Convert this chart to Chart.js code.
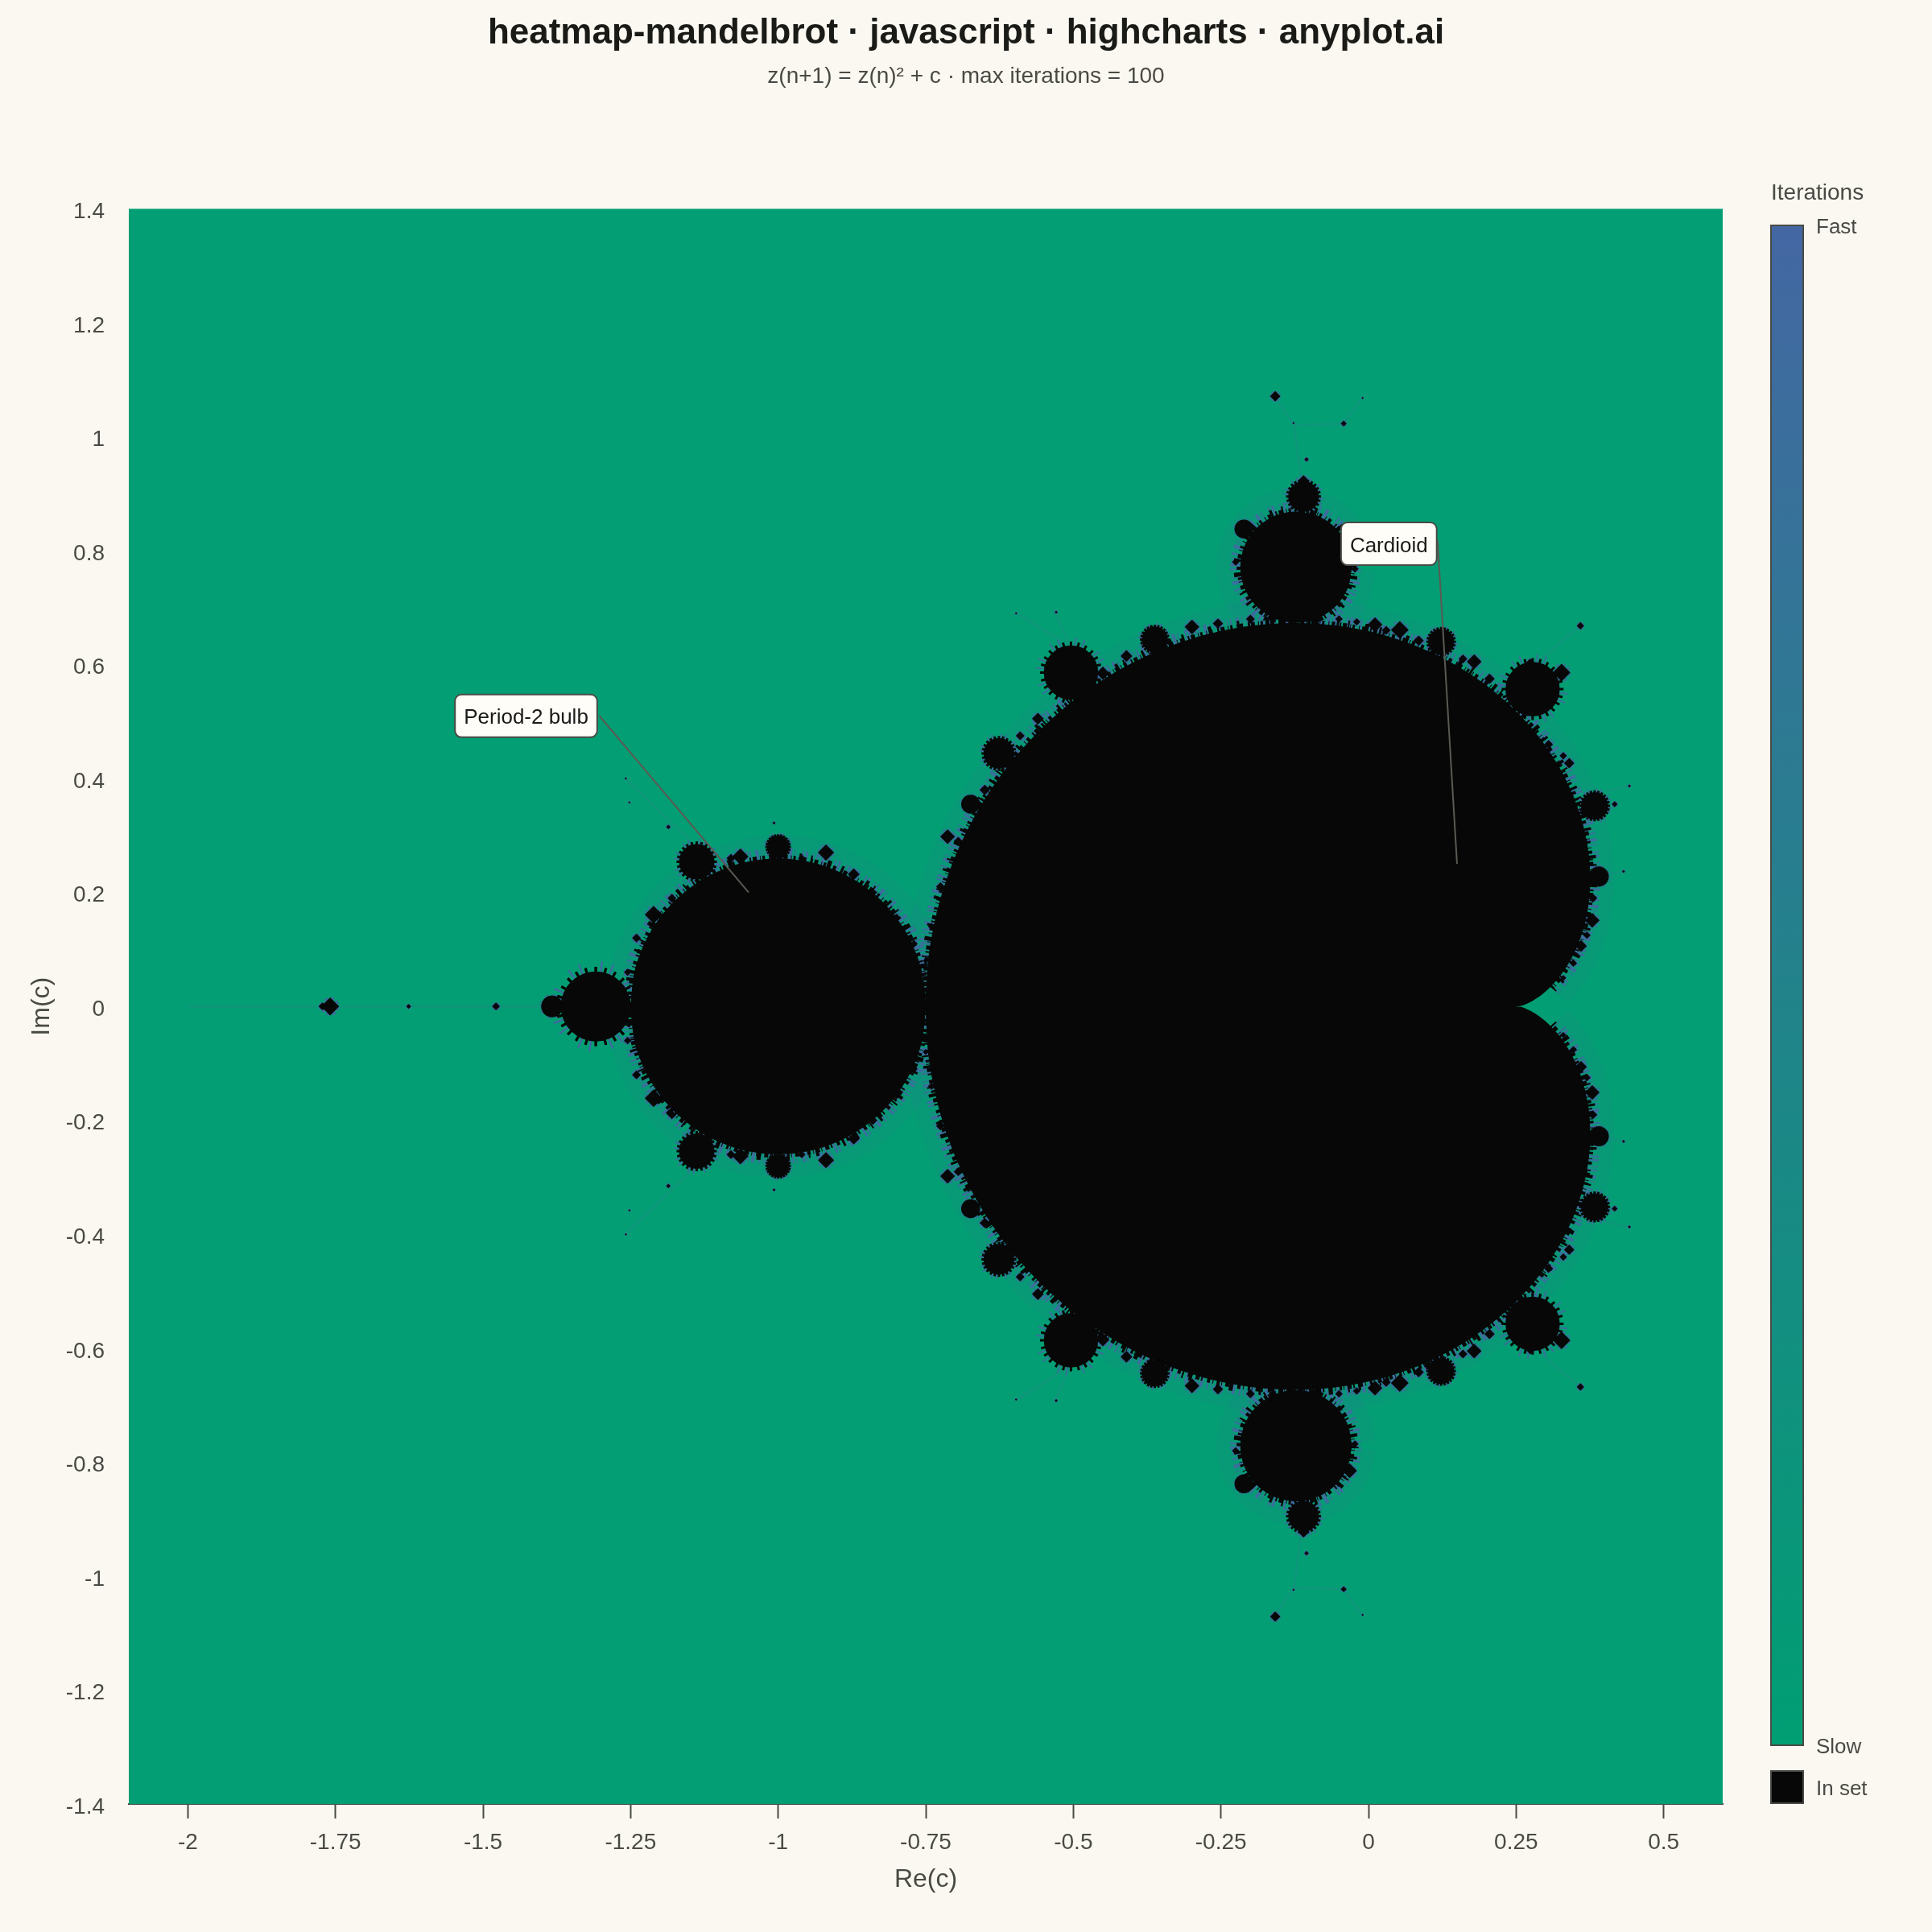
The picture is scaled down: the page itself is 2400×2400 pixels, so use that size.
<!DOCTYPE html>
<html>
<head>
<meta charset="utf-8">
<title>heatmap-mandelbrot</title>
<script src="https://cdn.jsdelivr.net/npm/chart.js@4"></script>
<style>
  html, body { margin: 0; padding: 0; background: #FAF8F1; }
  #chart { display: block; width: 2400px; height: 2400px; }
</style>
</head>
<body>
<canvas id="chart" width="2400" height="2400"></canvas>
<script>
// tick labels
const reTicks = [-2, -1.75, -1.5, -1.25, -1, -0.75, -0.5, -0.25, 0, 0.25, 0.5];
const imTicks = [-1.4, -1.2, -1, -0.8, -0.6, -0.4, -0.2, 0, 0.2, 0.4, 0.6, 0.8, 1, 1.2, 1.4];

// edge of the "in set" area, upper half
const cardioidRe = [0.25, 0.252, 0.2575, 0.2665, 0.2783, 0.2925, 0.308, 0.3241, 0.3396, 0.3536, 0.3648, 0.3723, 0.375, 0.372, 0.3625, 0.3459, 0.3217, 0.2898, 0.25, 0.2026, 0.1481, 0.0871, 0.0205, -0.0506, -0.125, -0.2013, -0.278, -0.3536, -0.4264, -0.4951, -0.558, -0.6139, -0.6613, -0.6995, -0.7273, -0.7443, -0.75];
const cardioidIm = [0, 0.001, 0.0013, 0.0046, 0.0107, 0.0205, 0.0347, 0.0537, 0.0778, 0.1072, 0.1416, 0.1808, 0.2241, 0.2709, 0.3199, 0.3705, 0.4211, 0.4706, 0.5175, 0.5605, 0.5981, 0.6293, 0.6526, 0.6673, 0.6722, 0.6671, 0.6512, 0.6247, 0.5875, 0.54, 0.4828, 0.4169, 0.3433, 0.2633, 0.1783, 0.09, 0];
const period2Re = [-0.75, -0.7585, -0.7835, -0.8232, -0.875, -0.9353, -1, -1.0647, -1.125, -1.1768, -1.2165, -1.2415, -1.25];
const period2Im = [0, 0.067, 0.1295, 0.1831, 0.2243, 0.2502, 0.259, 0.2502, 0.2243, 0.1831, 0.1295, 0.067, 0];
const period3Re = [-0.0286, -0.0358, -0.0561, -0.0866, -0.1226, -0.1586, -0.1891, -0.2094, -0.2166, -0.2094, -0.1891, -0.1586, -0.1226, -0.0866, -0.0561, -0.0358, -0.0286];
const period3Im = [0.771, 0.8082, 0.8396, 0.8606, 0.868, 0.8606, 0.8396, 0.8082, 0.771, 0.7338, 0.7024, 0.6814, 0.674, 0.6814, 0.7024, 0.7338, 0.771];

// smaller black bulbs and specks, upper half: centre and radius in Re units
const bulbRe = [-1.309, -1.383, -1.478, -1.626, -1.759, -1.772, -1.138, -1, -0.919, -1.064, -1.211, -0.872, -0.504, -0.362, -0.626, -0.674, -0.713, -0.299, 0.011, 0.053, 0.123, 0.179, 0.278, 0.327, 0.274, 0.383, 0.417, 0.39, 0.379, 0.36, 0.34, 0.347, 0.359, 0.442, 0.432, -0.11, -0.11, -0.105, -0.211, -0.225, -0.023, -0.032, -0.158, -0.042, -0.01, -0.127, -0.597, -0.529, -1.186, -1.252, -1.258, -1.007,
  -0.255, -0.2, -0.165, -0.085, -0.05, -0.02, 0.03, 0.085, 0.16, 0.205, 0.24, -0.45, -0.41, -0.56, -0.59, -0.65, -0.695, -0.725, -0.74, -0.75, 0.305, 0.33, 0.365, 0.38, 0.37, 0.33, -1.08, -0.96, -0.84, -0.8, -0.77, -1.18, -1.24, -1.255];
const bulbIm = [0, 0, 0, 0, 0, 0, 0.254, 0.28, 0.27, 0.263, 0.161, 0.232, 0.586, 0.644, 0.444, 0.355, 0.298, 0.666, 0.67, 0.661, 0.64, 0.605, 0.557, 0.586, 0.603, 0.352, 0.355, 0.228, 0.151, 0.106, 0.427, 0.076, 0.668, 0.387, 0.237, 0.895, 0.922, 0.96, 0.838, 0.78, 0.768, 0.815, 1.071, 1.023, 1.068, 1.024, 0.69, 0.692, 0.315, 0.358, 0.4, 0.322,
  0.672, 0.68, 0.683, 0.68, 0.68, 0.675, 0.66, 0.642, 0.61, 0.575, 0.545, 0.585, 0.615, 0.505, 0.475, 0.38, 0.29, 0.21, 0.14, 0.08, 0.46, 0.44, 0.29, 0.19, 0.125, 0.05, 0.26, 0.26, 0.2, 0.155, 0.11, 0.19, 0.12, 0.06];
const bulbR = [0.059, 0.016, 0.005, 0.003, 0.012, 0.005, 0.03, 0.019, 0.011, 0.011, 0.012, 0.008, 0.046, 0.022, 0.026, 0.014, 0.01, 0.01, 0.01, 0.012, 0.022, 0.01, 0.046, 0.012, 0.006, 0.023, 0.004, 0.015, 0.01, 0.008, 0.007, 0.005, 0.005, 0.002, 0.002, 0.026, 0.008, 0.003, 0.014, 0.005, 0.005, 0.01, 0.007, 0.004, 0.0015, 0.0015, 0.0015, 0.002, 0.003, 0.0015, 0.0015, 0.002,
  0.007, 0.006, 0.005, 0.005, 0.005, 0.005, 0.006, 0.007, 0.006, 0.007, 0.006, 0.009, 0.008, 0.008, 0.006, 0.007, 0.006, 0.006, 0.005, 0.004, 0.006, 0.005, 0.005, 0.006, 0.005, 0.004, 0.006, 0.005, 0.006, 0.006, 0.005, 0.006, 0.006, 0.005];

// faint filaments between the bulbs, upper half, null breaks the line
const filamentRe = [-2, -1.35, null, -0.114, -0.126, -0.159, null, -0.126, -0.043, -0.011, null, -0.506, -0.533, null, -0.506, -0.595, null, 0.281, 0.358, null, 0.381, 0.441, null, 0.39, 0.432, null, -1.138, -1.257];
const filamentIm = [0, 0, null, 0.923, 1.02, 1.07, null, 1.02, 1.023, 1.068, null, 0.632, 0.697, null, 0.632, 0.69, null, 0.6, 0.668, null, 0.372, 0.388, null, 0.228, 0.237, null, 0.28, 0.398];

// callouts: box centre and the point the leader goes to
const noteLabels = ['Period-2 bulb', 'Cardioid'];
const noteRe = [-1.427, 0.0345];
const noteIm = [0.51, 0.812];
const leaderRe = [-1.303, -1.05, null, 0.117, 0.15];
const leaderIm = [0.51, 0.2, null, 0.818, 0.25];

// colour bar
const barStops = ['#4467A3', '#009E73'];
const barLabels = ['Fast', 'Slow', 'In set'];

const INK = '#1A1A17', SOFT = '#4A4A44', BLACK = '#070707', CELL = '#049E74';

const pts = (xs, ys) => xs.map((x, i) => ({ x, y: ys[i] }));
// the picture mirrors around Im = 0
const mirrorPts = (xs, ys) => pts(xs, ys).concat(pts(xs, ys).reverse().map(p => ({ x: p.x, y: -p.y })));
const bothHalves = (xs, ys) => pts(xs, ys).concat([{ x: null, y: null }], pts(xs, ys.map(y => y === null ? null : -y)));

const cardioid = mirrorPts(cardioidRe, cardioidIm);
const cardioidEdge = mirrorPts(cardioidRe.slice(6), cardioidIm.slice(6));
const period2 = mirrorPts(period2Re, period2Im);
const period3Top = pts(period3Re, period3Im);
const period3Low = pts(period3Re, period3Im.map(y => -y));
const bulbs = mirrorPts(bulbRe, bulbIm);
const bulbSizes = bulbR.concat(bulbR.slice().reverse());

const unitPx = ctx => { const s = ctx.chart.scales.x; return s.getPixelForValue(1) - s.getPixelForValue(0); };
const isSmall = ctx => bulbSizes[ctx.dataIndex] < 0.013;

const shape = (data, extra) => Object.assign({
  data, showLine: true, pointRadius: 0, pointHoverRadius: 0, fill: 'shape',
  backgroundColor: BLACK, borderColor: BLACK, borderWidth: 1, tension: 0.3
}, extra);
const edge = (data, color, width, dash, order) => ({
  data, showLine: true, pointRadius: 0, pointHoverRadius: 0, fill: false,
  borderColor: color, borderWidth: width, borderDash: dash, tension: 0.3, order
});
const bulbSet = (scale, style, color, width, order, rotation) => ({
  data: bulbs, showLine: false, pointStyle: style, order, pointRotation: rotation || 0,
  pointRadius: ctx => Math.max(1, bulbSizes[ctx.dataIndex] * unitPx(ctx) * scale),
  pointHoverRadius: 0, backgroundColor: color, borderColor: color, pointBorderWidth: width
});
// spikes only on the bigger bulbs, the small ones are plain points
const spikeSet = (scale, color, width, order, rotation) => Object.assign(bulbSet(scale, 'star', color, width, order, rotation), {
  pointRadius: ctx => isSmall(ctx) ? 0 : bulbSizes[ctx.dataIndex] * unitPx(ctx) * scale
});
// the small ones are pointed in the picture, not round
const bulbBodies = Object.assign(bulbSet(1, ctx => isSmall(ctx) ? 'rectRot' : 'circle', BLACK, 0, 1), {
  pointRadius: ctx => Math.max(1, bulbSizes[ctx.dataIndex] * unitPx(ctx) * (isSmall(ctx) ? 1.25 : 1))
});

const edges = [cardioidEdge, period2, period3Top, period3Low];
const BLUE = 'rgba(68,103,163,0.85)';
const datasets = [
  { data: pts(leaderRe, leaderIm), showLine: true, pointRadius: 0, borderColor: '#5A5A54', borderWidth: 2, fill: false, order: 0 },
  bulbBodies,
  spikeSet(1.14, BLACK, 3, 2, 0),
  spikeSet(1.14, BLACK, 3, 2, 15),
  spikeSet(1.14, BLACK, 3, 2, 30),
  shape(cardioid, { order: 3 }),
  shape(period2, { order: 3 }),
  shape(period3Top, { order: 3 }),
  shape(period3Low, { order: 3 })
];
edges.forEach(e => {
  datasets.push(edge(e, BLACK, 10, [3, 2, 1, 4, 5, 2, 2, 6, 4, 3, 1, 5], 4));
  datasets.push(edge(e, BLACK, 18, [2, 11, 3, 23, 2, 7, 4, 31, 3, 13, 5, 19], 5));
  datasets.push(edge(e, BLUE, 26, [2, 3, 1, 6, 3, 2, 2, 8, 1, 3, 4, 5], 6));
  datasets.push(edge(e, 'rgba(68,103,163,0.07)', 60, [], 8));
});
datasets.push(bulbSet(1.3, 'star', BLUE, 2, 7, 8));
datasets.push(bulbSet(1.3, 'star', BLUE, 2, 7, 23));
datasets.push({
  data: bothHalves(filamentRe, filamentIm), showLine: true, pointRadius: 0, fill: false, spanGaps: false,
  borderColor: 'rgba(68,103,163,0.14)', borderWidth: 3, order: 9
});

const mapPanel = {
  id: 'mapPanel',
  beforeDatasetsDraw(chart) {
    const a = chart.chartArea, c = chart.ctx;
    c.save();
    c.fillStyle = CELL;
    c.fillRect(a.left, a.top, a.width, a.height);
    c.restore();
  },
  afterDraw(chart) {
    const c = chart.ctx, sx = chart.scales.x, sy = chart.scales.y;
    c.save();
    // callouts
    c.font = '26px "Liberation Sans"';
    c.textBaseline = 'middle';
    c.textAlign = 'center';
    noteLabels.forEach((t, i) => {
      const x = sx.getPixelForValue(noteRe[i]), y = sy.getPixelForValue(noteIm[i]);
      const w = c.measureText(t).width + 22, h = 53;
      c.beginPath();
      c.roundRect(x - w / 2, y - h / 2, w, h, 8);
      c.fillStyle = '#FFFDF8';
      c.fill();
      c.lineWidth = 2;
      c.strokeStyle = SOFT;
      c.stroke();
      c.fillStyle = INK;
      c.fillText(t, x, y + 3);
    });
    // colour bar
    const g = c.createLinearGradient(0, 279, 0, 2169);
    barStops.forEach((s, i) => g.addColorStop(i / (barStops.length - 1), s));
    c.lineWidth = 2;
    c.strokeStyle = SOFT;
    c.fillStyle = g;
    c.fillRect(2200, 280, 40, 1888);
    c.strokeRect(2200, 280, 40, 1888);
    c.fillStyle = BLACK;
    c.fillRect(2200, 2200, 40, 40);
    c.strokeRect(2200, 2200, 40, 40);
    c.textAlign = 'left';
    c.fillStyle = SOFT;
    c.font = '28px "Liberation Sans"';
    c.fillText('Iterations', 2200, 240);
    c.font = '26px "Liberation Sans"';
    c.fillText(barLabels[0], 2256, 283);
    c.fillText(barLabels[1], 2256, 2171);
    c.fillText(barLabels[2], 2256, 2223);
    c.restore();
  }
};

Chart.defaults.font.family = '"Liberation Sans", Arial, sans-serif';
Chart.defaults.color = SOFT;

new Chart(document.getElementById('chart'), {
  type: 'scatter',
  data: { datasets },
  plugins: [mapPanel],
  options: {
    responsive: false,
    animation: false,
    events: [],
    layout: { padding: { top: 15, right: 0, bottom: 0, left: 0 } },
    plugins: {
      legend: { display: false },
      tooltip: { enabled: false },
      title: {
        display: true,
        text: 'heatmap-mandelbrot · javascript · highcharts · anyplot.ai',
        color: INK,
        font: { size: 44, weight: 'bold' },
        padding: { top: 0, bottom: 11 }
      },
      subtitle: {
        display: true,
        text: 'z(n+1) = z(n)² + c · max iterations = 100',
        color: SOFT,
        font: { size: 28, weight: 'normal' },
        padding: { top: 0, bottom: 147 }
      }
    },
    scales: {
      x: {
        type: 'linear',
        min: -2.1,
        max: 0.6,
        afterBuildTicks: s => { s.ticks = reTicks.map(value => ({ value })); },
        afterFit: s => { s.height = 159; },
        title: { display: true, text: 'Re(c)', color: SOFT, font: { size: 32 }, padding: { top: 0, bottom: 46 } },
        ticks: { color: SOFT, font: { size: 28 }, padding: 13, maxRotation: 0, autoSkip: false, callback: v => String(v) },
        grid: { drawOnChartArea: false, drawTicks: true, tickLength: 18, tickWidth: 2, tickColor: SOFT },
        border: { display: true, color: SOFT, width: 2 }
      },
      y: {
        type: 'linear',
        min: -1.4,
        max: 1.4,
        afterBuildTicks: s => { s.ticks = imTicks.map(value => ({ value })); },
        afterFit: s => { s.width = 160; },
        title: { display: true, text: 'Im(c)', color: SOFT, font: { size: 32 }, padding: { top: 33, bottom: 0 } },
        ticks: { color: SOFT, font: { size: 28 }, padding: 30, labelOffset: 4, autoSkip: false, callback: v => String(v) },
        grid: { display: false, drawTicks: false },
        border: { display: false }
      },
      // keeps the colour bar column free so the title still centres on the page
      barGap: {
        type: 'linear',
        position: 'right',
        afterFit: s => { s.width = 260; },
        ticks: { display: false },
        grid: { display: false, drawTicks: false },
        border: { display: false }
      }
    }
  }
});
</script>
</body>
</html>
